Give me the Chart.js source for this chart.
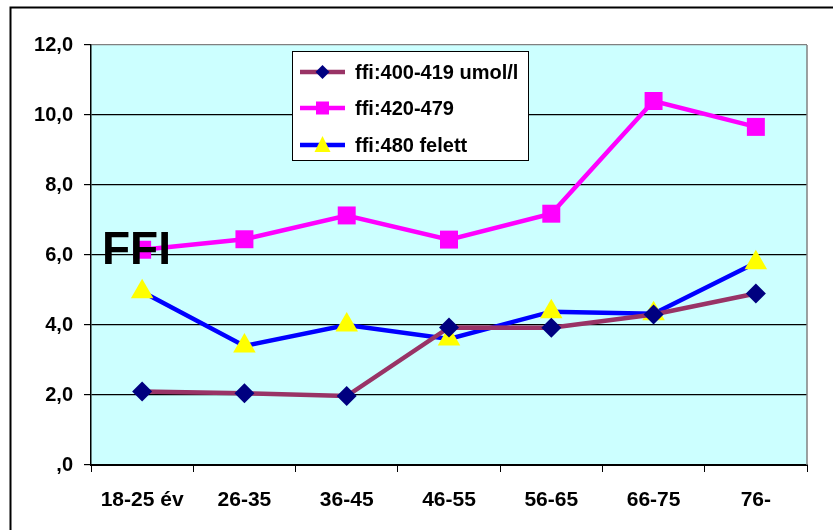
<!DOCTYPE html>
<html>
<head>
<meta charset="utf-8">
<script src="https://cdn.jsdelivr.net/npm/chart.js@4.4.1/dist/chart.umd.min.js"></script>
<style>
html,body{margin:0;padding:0;background:#fff;}
canvas{display:block;}
</style>
</head>
<body>
<canvas id="c" width="833" height="530"></canvas>
<script>
const categories = ['18-25 év', '26-35', '36-45', '46-55', '56-65', '66-75', '76-'];
const series1Name = 'ffi:400-419 umol/l';
const series1 = [2.1, 2.05, 1.97, 3.93, 3.92, 4.3, 4.9];
const series2Name = 'ffi:420-479';
const series2 = [6.15, 6.45, 7.13, 6.44, 7.18, 10.4, 9.66];
const series3Name = 'ffi:480 felett';
const series3 = [4.95, 3.4, 4.0, 3.6, 4.38, 4.32, 5.78];
const yTicks = [0, 2, 4, 6, 8, 10, 12];
const overlayText = 'FFI';

const SANS = "'Liberation Sans', Arial, sans-serif";
const probe = document.createElement('canvas').getContext('2d');
probe.font = "bold 24px 'Liberation Sans Narrow', monospace";
const wN = probe.measureText('18-25 év').width;
probe.font = "bold 24px monospace";
const wM = probe.measureText('18-25 év').width;
const hasNarrow = Math.abs(wN - wM) > 0.5;
const AXIS_FAMILY = hasNarrow ? "'Liberation Sans Narrow', " + SANS : SANS;
const xSize = hasNarrow ? 24 : 21;
const ySize = hasNarrow ? 22 : 20;

function fmt(v) {
  if (v === 0) return ',0';
  return v.toFixed(1).replace('.', ',');
}

const decor = {
  id: 'decor',
  beforeDraw(chart) {
    const ctx = chart.ctx, a = chart.chartArea;
    ctx.save();
    ctx.fillStyle = '#ffffff';
    ctx.fillRect(0, 0, chart.width, chart.height);
    ctx.fillStyle = '#CCFFFF';
    ctx.fillRect(a.left, a.top, a.right - a.left, a.bottom - a.top);
    ctx.restore();
  },
  afterDraw(chart) {
    const ctx = chart.ctx, a = chart.chartArea;
    ctx.save();
    ctx.strokeStyle = '#808080';
    ctx.lineWidth = 1.5;
    ctx.beginPath();
    ctx.moveTo(a.right, a.top);
    ctx.lineTo(a.right, a.bottom);
    ctx.stroke();
    ctx.strokeStyle = '#000';
    ctx.lineWidth = 2;
    ctx.beginPath();
    ctx.moveTo(10.5, 540);
    ctx.lineTo(10.5, 7.5);
    ctx.lineTo(840, 7.5);
    ctx.stroke();

    ctx.fillStyle = '#000';
    ctx.font = 'bold 46px ' + SANS;
    ctx.textBaseline = 'alphabetic';
    ctx.textAlign = 'left';
    ctx.fillText(overlayText, 102, 264);

    const lx = 292.5, ly = 51.5, lw = 236, lh = 109;
    ctx.fillStyle = '#fff';
    ctx.fillRect(lx, ly, lw, lh);
    ctx.strokeStyle = '#000';
    ctx.lineWidth = 1;
    ctx.strokeRect(lx, ly, lw, lh);
    const rows = [72, 108, 145];
    chart.data.datasets.forEach((ds, i) => {
      const y = rows[i];
      ctx.strokeStyle = ds.borderColor;
      ctx.lineWidth = 4.5;
      ctx.beginPath();
      ctx.moveTo(300, y);
      ctx.lineTo(345, y);
      ctx.stroke();
      const cx = 322.5;
      ctx.fillStyle = ds.pointBackgroundColor;
      ctx.beginPath();
      if (ds.pointStyle === 'rectRot') {
        const r = 7;
        ctx.moveTo(cx, y - r); ctx.lineTo(cx + r, y); ctx.lineTo(cx, y + r); ctx.lineTo(cx - r, y);
      } else if (ds.pointStyle === 'rect') {
        const h = 6.5;
        ctx.rect(cx - h, y - h, 2 * h, 2 * h);
      } else {
        ctx.moveTo(cx, y - 9); ctx.lineTo(cx + 8, y + 7); ctx.lineTo(cx - 8, y + 7);
      }
      ctx.closePath();
      ctx.fill();
      ctx.fillStyle = '#000';
      ctx.font = 'bold 20px ' + SANS;
      ctx.textBaseline = 'middle';
      ctx.textAlign = 'left';
      ctx.fillText(ds.label, 355, y + 1);
    });
    ctx.restore();
  }
};

new Chart(document.getElementById('c'), {
  type: 'line',
  data: {
    labels: categories,
    datasets: [
      {
        label: series1Name, data: series1,
        borderColor: '#993366', borderWidth: 4.5,
        pointStyle: 'rectRot', pointRadius: 10, pointBackgroundColor: '#000080',
        pointBorderColor: '#000080', pointBorderWidth: 0, tension: 0, clip: false
      },
      {
        label: series2Name, data: series2,
        borderColor: '#FF00FF', borderWidth: 4.5,
        pointStyle: 'rect', pointRadius: 12.7, pointBackgroundColor: '#FF00FF',
        pointBorderColor: '#FF00FF', pointBorderWidth: 0, tension: 0, clip: false
      },
      {
        label: series3Name, data: series3,
        borderColor: '#0000FF', borderWidth: 4.5,
        pointStyle: 'triangle', pointRadius: 13, pointBackgroundColor: '#FFFF00',
        pointBorderColor: '#FFFF00', pointBorderWidth: 0, tension: 0, clip: false
      }
    ]
  },
  options: {
    responsive: false,
    animation: false,
    devicePixelRatio: 1,
    events: [],
    layout: { padding: { top: 45, right: 26, left: 0, bottom: 0 } },
    plugins: { legend: { display: false }, tooltip: { enabled: false }, title: { display: false } },
    scales: {
      x: {
        type: 'category',
        offset: true,
        grid: { offset: true, drawOnChartArea: false, tickLength: 7, color: '#000', lineWidth: 1 },
        border: { color: '#000', width: 2 },
        ticks: { font: { family: AXIS_FAMILY, size: xSize, weight: 'bold' }, color: '#000', padding: hasNarrow ? 15 : 16, maxRotation: 0, autoSkip: false },
        afterFit(s) { s.height = 65; }
      },
      y: {
        min: 0, max: 12,
        afterBuildTicks(s) { s.ticks = yTicks.map(v => ({ value: v })); },
        ticks: { callback: v => fmt(v), font: { family: AXIS_FAMILY, size: ySize, weight: 'bold' }, color: '#000', padding: 11 },
        grid: {
          color: c => (c.tick && c.tick.value === 12) ? '#808080' : '#000',
          tickColor: '#000', tickLength: 7, lineWidth: 1.2
        },
        border: { color: '#000', width: 1.5 },
        afterFit(s) { s.width = 91; }
      }
    }
  },
  plugins: [decor]
});
</script>
</body>
</html>
